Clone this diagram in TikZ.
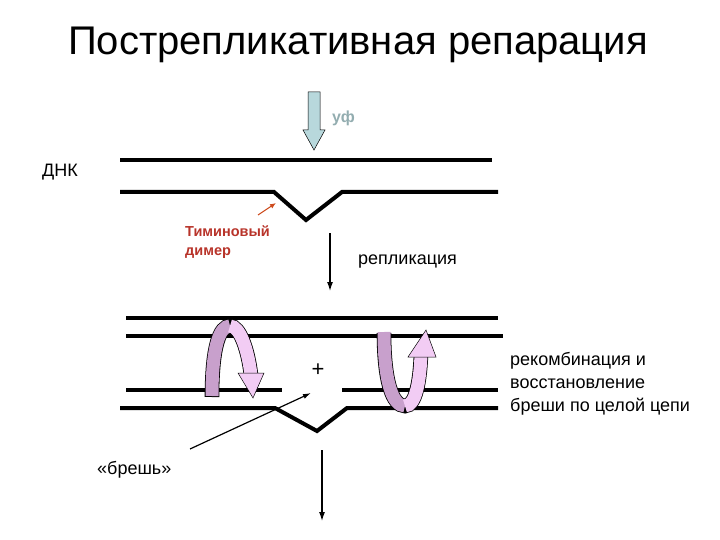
\documentclass[tikz,border=0pt]{standalone}
\usepackage{fontspec}
\setmainfont{Liberation Sans}
\begin{document}
\begin{tikzpicture}[x=1pt,y=-1pt,
  dna/.style={line width=4pt,line join=miter},
  thin/.style={line width=1.2pt,-{Latex[length=9pt,width=6pt]}},
  lbl/.style={font=\fontsize{18}{21}\selectfont,align=left,anchor=west,inner sep=0pt},
  rib/.style={line width=13pt},
  ribo/.style={line width=14.6pt,black}]
\usetikzlibrary{arrows.meta}
\definecolor{uvc}{HTML}{B8D8DC}
\definecolor{dim}{HTML}{B8342A}
\definecolor{pd}{HTML}{C8A0CC}
\definecolor{pl}{HTML}{F2CCF4}
\useasboundingbox (0,0) rectangle (720,540);
\node (title) at (358,45) {\fontsize{40}{44}\selectfont Пострепликативная репарация};
% UV arrow
\draw[fill=uvc,line width=0.5pt] (308,92) -- (320,92) -- (320,130) -- (325,130) -- (314,150) -- (303,130) -- (308,130) -- cycle;
\node[lbl,text=uvc!80!black,font=\bfseries\fontsize{16}{20}\selectfont] (uf) at (332,118) {уф};
\node[lbl] (dnk) at (42,172) {ДНК};
% top DNA
\draw[dna] (120,160) -- (492,160);
\draw[dna] (120,192) -- (274,192) -- (306,220) -- (342,192) -- (498,192);
\coordinate (dimtip) at (276,203);
\coordinate (dimtail) at (258,215);
\draw[line width=1pt,draw=dim!70!orange,-{Latex[length=6pt,width=5pt]}] (dimtail) -- (dimtip);
\node[lbl,text=dim,font=\bfseries\fontsize{14.5}{19}\selectfont] (dimer) at (185,242) {Тиминовый\\димер};
% replication arrow
\coordinate (r1) at (330,233); \coordinate (r2) at (330,291);
\draw[thin] (r1) -- (r2);
\node[lbl] (repl) at (358,262) {репликация};
% bottom DNA
\draw[dna] (126,318) -- (498,318);
\draw[dna] (126,336) -- (503,336);
\draw[dna] (126,390) -- (282,390);
\draw[dna] (342,390) -- (498,390);
\draw[dna] (120,408) -- (275,408) -- (317,431) -- (347,408) -- (498,408);
\node (plus) at (318,370) {\fontsize{22}{24}\selectfont +};
\node[lbl] (gap) at (97,470) {«брешь»};
\coordinate (gaptip) at (311,393);
\draw[line width=1.2pt,-{Latex[length=8pt,width=5pt]}] (190,449) -- (gaptip);
% left curved arrow
\draw[ribo] (212,397) .. controls (212,345) and (220,326) .. (230,326) .. controls (240,326) and (248,350) .. (251,375);
\draw[rib,pd] (212,396) .. controls (212,345) and (220,326) .. (230,326);
\draw[rib,pl] (230,326) .. controls (240,326) and (248,350) .. (251,375);
\draw[fill=pl,line width=0.5pt] (238,373) -- (264,373) -- (253,398) -- cycle;
% right curved arrow
\draw[ribo] (384,333) .. controls (384,380) and (392,406) .. (405,406) .. controls (416,406) and (420,380) .. (421,354);
\draw[rib,pd] (384,332) .. controls (384,380) and (392,406) .. (405,406);
\draw[rib,pl] (405,406) .. controls (416,406) and (420,380) .. (421,355);
\draw[fill=pl,line width=0.5pt] (408,357) -- (436,357) -- (426,330) -- cycle;
\node[lbl,font=\fontsize{18}{23}\selectfont] (rec) at (510,384) {рекомбинация и\\восстановление\\бреши по целой цепи};
\coordinate (b1) at (322,450); \coordinate (b2) at (322,521);
\draw[thin] (b1) -- (b2);
\end{tikzpicture}
\end{document}
